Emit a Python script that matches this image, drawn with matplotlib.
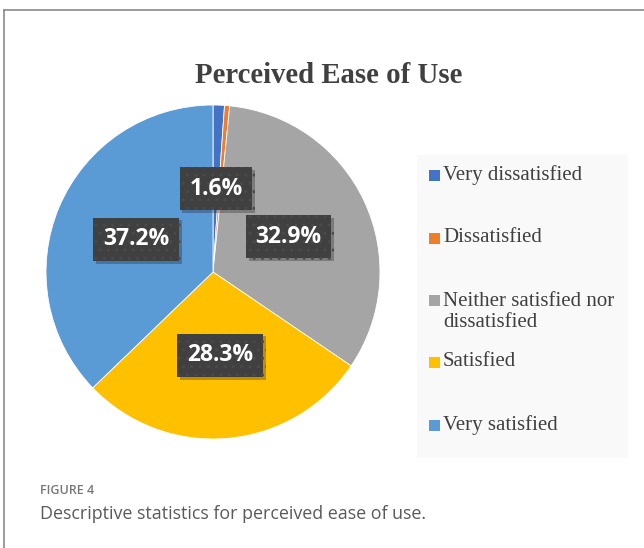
import matplotlib.pyplot as plt
import matplotlib.patheffects as pe
from matplotlib.patches import Rectangle
from matplotlib.lines import Line2D
import numpy as np

categories = ["Very dissatisfied", "Dissatisfied",
              "Neither satisfied nor\ndissatisfied", "Satisfied", "Very satisfied"]
values = [1.1, 0.5, 32.9, 28.3, 37.2]
shown_labels = ["1.6%", "", "32.9%", "28.3%", "37.2%"]
colors = ["#4472C4", "#ED7D31", "#A5A5A5", "#FFC000", "#5B9BD5"]

W, H = 644, 548
fig = plt.figure(figsize=(W / 100, H / 100), dpi=100)


def px(x, y):
    return x / W, 1 - y / H


# page frame
fig.add_artist(Line2D([4 / W, 1], [1 - 10 / H] * 2, color="#8a8a8a", lw=1.2))
fig.add_artist(Line2D([4 / W] * 2, [0, 1 - 10 / H], color="#8a8a8a", lw=1.2))

# pie
cx, cy, r = 213, 272, 167
ax = fig.add_axes([(cx - r) / W, (H - cy - r) / H, 2 * r / W, 2 * r / H])
wedges, _ = ax.pie(values, colors=colors, startangle=90, counterclock=False,
                   wedgeprops=dict(edgecolor="white", linewidth=0.6))
ax.set_xlim(-1, 1)
ax.set_ylim(-1, 1)
ax.set_aspect("equal")
ax.axis("off")

for w, lab in zip(wedges, shown_labels):
    if not lab:
        continue
    ang = np.deg2rad((w.theta1 + w.theta2) / 2)
    t = ax.text(0.5 * np.cos(ang), 0.5 * np.sin(ang), lab, ha="center", va="center",
                color="white", fontsize=16.5, fontweight="bold", family="Open Sans",
                bbox=dict(boxstyle="square,pad=0.42", facecolor="#404040",
                          edgecolor="#4a4a4a", linewidth=0, hatch=".."))
    t.get_bbox_patch().set_path_effects([
        pe.SimplePatchShadow(offset=(2, -2), shadow_rgbFace="#000000", alpha=0.25),
        pe.Normal()])

fig.text(*px(329, 76), "Perceived Ease of Use", ha="center", va="center",
         fontsize=20.7, fontweight="bold", family="Liberation Serif", color="#404040")

# legend
fig.add_artist(Rectangle(px(417, 458), 211 / W, 303 / H, facecolor="#f9f9f9",
                         edgecolor="none"))
legend_y = [175, 238, 312, 362, 425]
for cat, col, ly in zip(categories, colors, legend_y):
    first_line_y = ly - 12 if "\n" in cat else ly
    fig.add_artist(Rectangle(px(429, first_line_y + 5.5), 11 / W, 11 / H,
                             facecolor=col, edgecolor="none"))
    fig.text(*px(443, ly), cat, ha="left", va="center", fontsize=15,
             family="Liberation Serif", color="#404040", linespacing=1.15)

# caption
fig.text(*px(40, 490), "FIGURE 4", ha="left", va="center", fontsize=9,
         fontweight="semibold", family="Open Sans", color="#777777")
fig.text(*px(40, 514), "Descriptive statistics for perceived ease of use.",
         ha="left", va="center", fontsize=12.9, family="Open Sans", color="#5a5a5a")

fig.savefig("out.png", dpi=100)
